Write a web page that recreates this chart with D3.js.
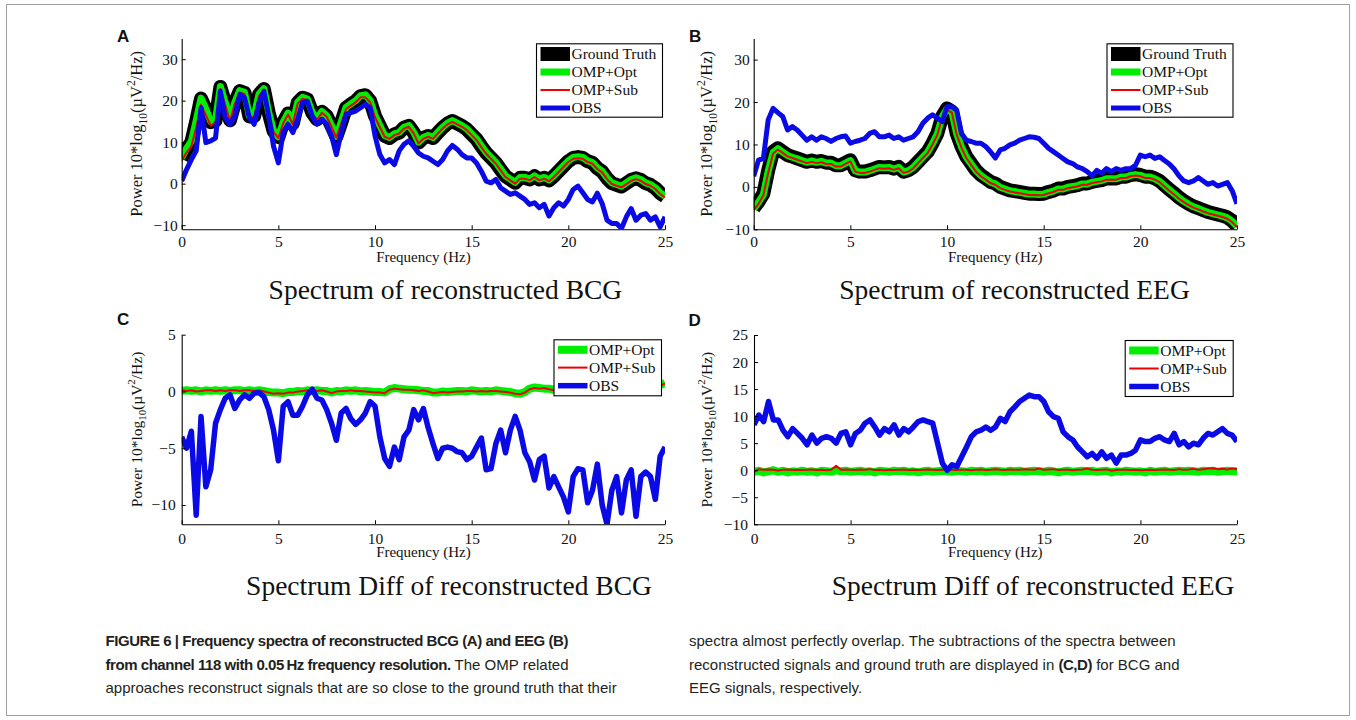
<!DOCTYPE html>
<html><head><meta charset="utf-8">
<script src="https://cdn.jsdelivr.net/npm/d3@7"></script>
<style>body{margin:0;background:#fff} svg{display:block}</style>
</head><body>
<svg id="fig" width="1356" height="720"></svg>
<script>
// ---------- DATA ----------
const freq = [0,0.25,0.5,0.75,1,1.25,1.5,1.75,2,2.25,2.5,2.75,3,3.25,3.5,3.75,4,4.25,4.5,4.75,
 5,5.25,5.5,5.75,6,6.25,6.5,6.75,7,7.25,7.5,7.75,8,8.25,8.5,8.75,9,9.25,9.5,9.75,
 10,10.25,10.5,10.75,11,11.25,11.5,11.75,12,12.25,12.5,12.75,13,13.25,13.5,13.75,14,14.25,14.5,14.75,
 15,15.25,15.5,15.75,16,16.25,16.5,16.75,17,17.25,17.5,17.75,18,18.25,18.5,18.75,19,19.25,19.5,19.75,
 20,20.25,20.5,20.75,21,21.25,21.5,21.75,22,22.25,22.5,22.75,23,23.25,23.5,23.75,24,24.25,24.5,24.75,25];
const xTicks = [0,5,10,15,20,25];
const yTicksAB = [-10,0,10,20,30];
const yTicksC = [-10,-5,0,5];
const yTicksD = [-10,-5,0,5,10,15,20,25];
const legendAB = ["Ground Truth","OMP+Opt","OMP+Sub","OBS"];
const legendCD = ["OMP+Opt","OMP+Sub","OBS"];

// Panel A: spectrum of reconstructed BCG
const gtA = [6,8.3,10,15,20.5,17.9,14.8,15.2,23.3,19.5,
 15.3,19.5,22.3,21.9,16.2,16.3,21.5,22.8,17.1,12.7,
 11.2,14.7,16.9,14.5,19.5,20.7,20.3,17.1,15.5,17.3,
 16.3,13.9,11.3,14.7,18.3,19.1,19.9,21.1,21.3,19.9,
 16.3,13.9,11.5,11,11.9,12.3,13.5,13.9,12.3,9.9,
 11,11.5,11,12.3,13.5,14.5,15.1,14.5,13.9,13.1,
 11.9,10.7,9,7.4,6.2,5,3.4,1.8,1,0.2,
 1.4,1.4,1,1.8,1,1.4,0.8,1.8,3,4.2,
 5.4,6.2,6.4,6.2,5.4,5,3.7,2.9,1.3,0.1,
 -0.3,-0.7,0.1,0.9,1.3,0.9,0.1,-0.3,-1.1,-2.3,
 -3.1];
const optA = [6.2,8.5,10.2,15.2,20.6,18,15,15.3,23.4,19.6,
 15.4,19.6,22.4,22,16.3,16.4,21.6,22.9,17.2,12.8,
 11.3,14.8,17,14.6,19.6,20.8,20.4,17.2,15.6,17.4,
 16.4,14,11.4,14.8,18.4,19.2,20,21.2,21.4,20,
 16.4,14,11.6,11.1,12,12.4,13.6,14,12.4,10,
 11.1,11.6,11.1,12.4,13.6,14.6,15.2,14.6,14,13.2,
 12,10.8,9.1,7.5,6.3,5.1,3.5,1.9,1.1,0.3,
 1.5,1.5,1.1,1.9,1.1,1.5,0.9,1.9,3.1,4.3,
 5.5,6.3,6.5,6.3,5.5,5.1,3.8,3,1.4,0.2,
 -0.2,-0.6,0.2,1,1.4,1,0.2,-0.2,-1,-2.2,
 -3];
const subA = [5.5,7.5,9,13.5,19,16.5,14,14.8,22.8,19,
 15,19.3,22,21.6,16,16,21.2,22.5,16.9,12.5,
 11,14.5,16.7,14.3,19.3,20.5,20.1,16.9,15.3,17.1,
 16.1,13.7,11.1,14.5,18,18.8,19.6,20.8,20.8,19.6,
 16,13.6,11.3,10.8,11.7,12.1,13.3,13.7,12.1,9.7,
 10.8,11.3,10.8,12.1,13.3,14.3,14.9,14.3,13.7,12.9,
 11.7,10.5,8.8,7.2,6,4.8,3.2,1.6,0.8,0,
 1.2,1.2,0.8,1.6,0.8,1.2,0.6,1.6,2.8,4,
 5.2,6,6.1,6,5.2,4.8,3.5,2.7,1.1,-0.1,
 -0.5,-0.9,-0.1,0.7,1.1,0.7,-0.1,-0.5,-1.3,-2.5,
 -3.3];
const obsA = [0.6,3.4,5.8,7.9,18.3,9.9,10.3,11,22.3,15.9,
 14.3,16.3,21.5,20.7,15.9,14.3,19.5,22.3,16.3,9,
 5,12.3,14.3,12.3,15.5,19.5,19.9,16.3,14.3,15.5,
 14.3,11.5,7,12.3,16.7,17.1,17.5,18.3,19.1,18.3,
 11.5,7,5,5.8,4.6,7.9,9.5,10.3,9,7.4,
 6.6,6.2,5.4,4.6,5.8,7.9,9.2,8.3,7,6.2,
 6.2,5,3,0.6,0.2,1,-1,-1.8,-2.6,-2.2,
 -3,-3.8,-5,-4.6,-5.8,-5,-7.8,-5.8,-4.6,-5.4,
 -3.8,-1.4,-0.6,-2.2,-3.8,-4.4,-2.3,-4.8,-8.8,-9.6,
 -9.6,-10.8,-8,-6,-8.8,-7.6,-7.2,-8.8,-8,-10.4,
 -8];

// Panel B: spectrum of reconstructed EEG
const gtB = [-5,-3.5,-1.6,3.9,8.3,9.1,8.3,7.5,7.1,6.7,
 6.3,5.9,6.2,5.9,6.1,5.7,5.7,5.1,5.1,5.7,
 6.3,3.9,3.6,3.6,3.9,4.3,4.7,4.6,4.7,4.3,
 4.7,3.6,3.9,4.7,5.9,7.1,8.3,10.3,12.6,16.6,
 18.5,17.8,12.6,9.5,7.1,5.5,3.9,2.8,2,1.2,
 0.8,0,-0.4,-0.8,-1,-1.2,-1.4,-1.6,-1.6,-1.7,
 -1.6,-1.2,-0.9,-0.4,-0.4,0,0.2,0.4,0.8,0.8,
 1.2,1.4,1.6,2,2,2,2.4,2.4,2.8,3,
 2.8,2.4,2.4,2,1.4,0.4,-0.6,-1.5,-2.5,-3.3,
 -4,-4.6,-5,-5.5,-5.9,-6.2,-6.5,-6.8,-7.2,-8,
 -9.2];
const optB = [-5.2,-3.6,-1.8,3.7,8.1,9,8.2,7.4,7,6.6,
 6.2,5.8,6.1,5.8,6,5.6,5.6,5,5,5.6,
 6.2,3.8,3.5,3.5,3.8,4.2,4.6,4.5,4.6,4.2,
 4.6,3.5,3.8,4.6,5.8,7,8.2,10.2,12.5,16.5,
 18.4,17.7,12.5,9.4,7,5.4,3.8,2.7,1.9,1.1,
 0.7,-0.1,-0.5,-0.9,-1.1,-1.3,-1.5,-1.7,-1.7,-1.8,
 -1.7,-1.3,-1,-0.5,-0.5,-0.1,0.1,0.3,0.7,0.7,
 1.1,1.3,1.5,1.9,1.9,1.9,2.3,2.3,2.7,2.9,
 2.7,2.3,2.3,1.9,1.3,0.3,-0.7,-1.6,-2.6,-3.4,
 -4.1,-4.7,-5.1,-5.6,-6,-6.3,-6.6,-6.9,-7.3,-8.1,
 -9.3];
const subB = [-5.5,-4,-2,3.3,7.8,8.8,8,7.2,6.8,6.4,
 6,5.6,5.9,5.6,5.8,5.4,5.4,4.8,4.8,5.4,
 6,3.6,3.3,3.3,3.6,4,4.4,4.3,4.4,4,
 4.4,3.3,3.6,4.4,5.6,6.8,8,10,12.3,16.3,
 18.2,17.5,12.3,9.2,6.8,5.2,3.6,2.5,1.7,0.9,
 0.5,-0.3,-0.7,-1.1,-1.3,-1.5,-1.7,-1.9,-1.9,-2,
 -1.9,-1.5,-1.2,-0.7,-0.7,-0.3,-0.1,0.1,0.5,0.5,
 0.9,1.1,1.3,1.7,1.7,1.7,2.1,2.1,2.5,2.7,
 2.5,2.1,2.1,1.7,1.1,0.1,-0.9,-1.8,-2.8,-3.6,
 -4.3,-4.9,-5.3,-5.8,-6.2,-6.5,-6.8,-7.1,-7.5,-8.3,
 -9.5];
const obsB = [2.5,6.3,6.7,15.8,18.5,17.5,16.6,13.4,14.2,13.4,
 12.2,11,11.8,11,11.8,11.4,10.7,11.4,11.8,12,
 10.3,10.7,11,11.4,12.6,13,11.8,11.8,12.2,11.4,
 11.8,11,11.4,11.8,13,15,16.2,17,16.2,15.4,
 18.9,18.9,18.1,12.6,11,10.7,10.3,10.3,9.5,8.3,
 6.8,8.7,9.1,9.9,10.3,11,11.4,11.8,11.7,11.4,
 10.3,9.1,8.3,7.5,6.7,5.9,5.5,4.7,4.3,3.6,
 2.6,3.9,3.2,4.3,3.6,4.3,3.9,4.3,4.3,5.1,
 7.5,7.1,7.5,6.7,7.1,6.2,5.4,4.2,2.6,1.4,
 1,1.4,2.2,1.4,0.6,1,0.2,0.6,1,-0.9,
 -4];

// Panel C: spectrum difference, BCG
const optC = [0.05,0.1,0.05,0.1,0,0.1,0.05,0.1,0.05,0.1,
 0.05,0.1,0.1,0.05,0.1,0.05,0.1,0.05,-0.05,-0.1,
 -0.1,-0.15,-0.05,-0.05,0.05,0,0.1,0.05,0.1,0.05,
 0.05,-0.1,0.05,0,0.1,0.05,0.1,0,0.05,0,
 -0.05,-0.05,-0.1,0.2,0.3,0.25,0.2,0.15,0.15,0.1,
 0.05,0.05,-0.1,-0.1,0,-0.05,0,0.05,0.05,0,
 0.1,0.05,0,0.05,0,0.1,0.05,0,-0.05,-0.15,
 -0.2,-0.05,0.25,0.35,0.3,0.25,0.25,0.15,0.1,0.15,
 0.1,0.15,0.1,0.05,0.1,0.15,0.1,0.05,0.1,0.15,
 0.1,0.15,0.1,0.2,0.15,0.25,0.3,0.3,0.4,0.55,
 0.75];
const subC = [0.1,0.05,0.1,0,0.05,0.1,0.1,0.05,0.1,0.05,
 0.1,0.1,0.05,0.1,0.1,0.05,0.1,0,-0.1,-0.2,
 -0.15,-0.2,-0.1,-0.1,0,0.05,0.1,0.05,0.05,0.1,
 0,-0.15,0,0.05,0.05,0.1,0.05,0.05,0,-0.05,
 -0.1,-0.1,-0.15,0.15,0.25,0.2,0.15,0.15,0.1,0.05,
 0.1,0,-0.15,-0.1,-0.05,-0.1,-0.05,0,0,0.05,
 0.05,0,0.05,0,0.05,0.05,0,-0.05,-0.1,-0.2,
 -0.25,-0.1,0.2,0.3,0.25,0.3,0.2,0.1,0.15,0.1,
 0.15,0.1,0.05,0.1,0.1,0.15,0.1,0.1,0.05,0.1,
 0.15,0.1,0.1,0.15,0.2,0.2,0.25,0.3,0.35,0.5,
 0.7];
const obsC = [-4,-5,-3.5,-10.9,-2.2,-8.4,-6.9,-2.8,-1.6,-0.6,
 -0.3,-1.5,-0.75,-0.3,-0.6,-0.15,-0.1,-0.45,-1.6,-3.4,
 -6.1,-1.3,-0.9,-2.1,-2.1,-1.3,-0.3,0.2,-0.6,-0.75,
 -1.6,-2.8,-4.3,-1.9,-1.5,-2.4,-2.9,-2.5,-1.9,-0.9,
 -1.3,-4,-5.9,-6.6,-4.9,-6,-4,-3.4,-1.6,-2.5,
 -1.5,-3.2,-4.6,-5.9,-5,-4.9,-5,-5.3,-5.4,-6,
 -5.7,-4.9,-4.1,-6.9,-6.8,-4.6,-3.4,-5.4,-3.4,-2.2,
 -3.4,-5.4,-6.2,-7.8,-6,-5.7,-8.5,-7.5,-8.4,-9.3,
 -10.6,-7.5,-6.8,-6.9,-9.8,-8.7,-6.4,-10,-11.7,-8.7,
 -7.5,-10.7,-7.8,-6.9,-11,-7.5,-7.1,-7.5,-9.5,-5.7,
 -4.9];

// Panel D: spectrum difference, EEG
const optD = [-0.3,-0.1,-0.4,-0.2,0,-0.3,-0.1,-0.4,-0.2,-0.3,
 -0.1,-0.3,-0.2,-0.4,-0.1,-0.2,-0.3,0,-0.2,-0.1,
 -0.3,-0.2,-0.1,-0.3,-0.2,-0.4,-0.1,-0.2,-0.3,-0.1,
 -0.2,-0.1,-0.3,-0.2,-0.4,-0.2,-0.1,-0.3,-0.2,-0.1,
 -0.2,-0.3,-0.1,-0.2,-0.3,-0.1,-0.2,-0.1,-0.3,-0.2,
 -0.1,-0.2,-0.3,-0.1,-0.2,-0.1,-0.3,-0.2,-0.1,-0.2,
 -0.3,-0.1,-0.2,-0.4,-0.2,-0.1,-0.3,-0.2,-0.1,-0.2,
 -0.1,-0.3,-0.2,-0.1,-0.4,-0.2,-0.3,-0.1,-0.2,-0.3,
 -0.2,-0.4,-0.1,-0.3,-0.2,-0.1,-0.3,-0.2,-0.1,-0.2,
 -0.1,-0.2,-0.3,-0.1,-0.2,-0.1,-0.3,-0.2,-0.1,-0.2,
 -0.2];
const subD = [-0.3,0.2,0.1,0.15,0.1,-0.05,0.1,0.15,0.05,0.1,
 0.05,0.1,0.15,0.05,0.1,0,0.1,0.8,0.1,0.15,
 0.1,0.05,0.15,0.1,0.2,0.05,0.1,0,0.1,0.05,
 0.1,0.15,0.05,0.1,0.05,0.1,0.15,0.1,0.05,0.1,
 0.15,0.1,0.05,0.1,0.1,0,0.1,0.15,0.05,0.1,
 0.2,0.1,0.05,0.15,0.1,0.1,0.2,0.15,0.1,0.3,
 0.1,0.15,0.2,0.05,0.1,0.1,0,0.1,0.15,0.3,
 0.1,0.05,0.1,0.15,-0.1,0.05,0.1,0.1,0.05,0.1,
 0,0.05,0.1,0.05,0.1,0.15,0.1,0.05,0.2,0.1,
 0.15,0.25,0.1,0.2,0.3,0.35,0.2,0.25,0.15,0.3,
 0.2];
const obsD = [8.4,10.2,9,12.7,9.3,9.3,7.4,6.2,7.7,6.8,
 5.9,4.7,6.5,5,5.9,6.2,5.9,5,6.8,7.1,
 4.7,6.8,7.4,8.7,9.3,8,6.5,7.7,7.1,8.4,
 6.5,7.7,7.1,8,9,9.3,9,8.7,5,1.3,
 0,1,0.7,2.5,4.3,6.2,7.1,7.4,8,7.4,
 8,9.6,9,10.8,11.7,12.7,13.3,13.9,13.6,13.6,
 12.7,10.8,9.9,9.6,7.1,6.2,5.6,4.3,3.4,2.5,
 3.1,2.2,3.4,2.2,2.8,1.3,2.8,2.8,3.1,3.7,
 5.6,5.3,5.3,5.9,6.2,5.6,5.3,6.8,4.7,5.3,
 4.3,5,4.7,5.9,6.8,6.5,7.1,7.7,6.8,6.5,
 5.3];

// ---------- DRAWING ----------
const SERIF = "'Liberation Serif','Times New Roman',Times,serif";
const SANS = "'Liberation Sans',Arial,Helvetica,sans-serif";
const C_BLACK = "#000", C_GREEN = "#00ee00", C_RED = "#ee0000", C_BLUE = "#0a0ae6";
const svg = d3.select("#fig");

svg.append("rect").attr("x",6.5).attr("y",4.5).attr("width",1343).attr("height",711)
  .attr("fill","none").attr("stroke","#a0a0a0").attr("stroke-width",1);

const panels = [
  {key:"A", lx:117, ly:42, x0:181.7, x1:665, yTop:38.4, yBot:229.3, dom:[-11,35], yticks:yTicksAB,
   tickPadX:6.8, tickPadY:4, ylabX:136.4, ylabFs:16.5, xlabX:423.4, xlabY:261.7,
   title:"Spectrum of reconstructed BCG", tX:445.4, tY:299,
   leg:{x:536, y:43.3, w:126, h:73.4, rows:[54,72,90,108]},
   series:[{n:legendAB[0],d:gtA,c:C_BLACK,w:14},{n:legendAB[1],d:optA,c:C_GREEN,w:7},
           {n:legendAB[2],d:subA,c:C_RED,w:2},{n:legendAB[3],d:obsA,c:C_BLUE,w:5}]},
  {key:"B", lx:689, ly:42, x0:753.7, x1:1237, yTop:38.4, yBot:229.3, dom:[-10,35], yticks:yTicksAB,
   tickPadX:6.8, tickPadY:4, ylabX:706.4, ylabFs:16.5, xlabX:995.3, xlabY:261.7,
   title:"Spectrum of reconstructed EEG", tX:1014.5, tY:299,
   leg:{x:1106.5, y:43.3, w:126, h:73.4, rows:[54,72,90,108]},
   series:[{n:legendAB[0],d:gtB,c:C_BLACK,w:14},{n:legendAB[1],d:optB,c:C_GREEN,w:7},
           {n:legendAB[2],d:subB,c:C_RED,w:2},{n:legendAB[3],d:obsB,c:C_BLUE,w:5}]},
  {key:"C", lx:117, ly:325, x0:181.7, x1:665, yTop:334.7, yBot:524.3, dom:[-11.7,5], yticks:yTicksC,
   tickPadX:8.4, tickPadY:6, ylabX:136.4, ylabFs:15.5, xlabX:423.4, xlabY:557,
   title:"Spectrum Diff of reconstructed BCG", tX:449, tY:595,
   leg:{x:553.5, y:339.3, w:107.5, h:56, rows:[349.8,367.6,385.7]},
   series:[{n:legendCD[0],d:optC,c:C_GREEN,w:8},{n:legendCD[1],d:subC,c:C_RED,w:2},
           {n:legendCD[2],d:obsC,c:C_BLUE,w:5.5}]},
  {key:"D", lx:688.5, ly:326, x0:754, x1:1237, yTop:335, yBot:524.3, dom:[-10,25], yticks:yTicksD,
   tickPadX:8.4, tickPadY:6, ylabX:706.4, ylabFs:15.5, xlabX:995.3, xlabY:557,
   title:"Spectrum Diff of reconstructed EEG", tX:1033, tY:595,
   leg:{x:1124.7, y:340, w:108, h:56, rows:[350.5,368.5,386.5]},
   series:[{n:legendCD[0],d:optD,c:C_GREEN,w:8},{n:legendCD[1],d:subD,c:C_RED,w:2},
           {n:legendCD[2],d:obsD,c:C_BLUE,w:5.5}]}
];

const fmt = d => d < 0 ? "\u2212" + Math.abs(d) : String(d);

panels.forEach(p => {
  const g = svg.append("g");
  const x = d3.scaleLinear().domain([0,25]).range([p.x0, p.x1]);
  const y = d3.scaleLinear().domain(p.dom).range([p.yBot, p.yTop]);

  const clipId = "clip" + p.key;
  svg.append("clipPath").attr("id", clipId).append("rect")
    .attr("x", p.x0).attr("y", p.yTop).attr("width", p.x1 - p.x0).attr("height", p.yBot - p.yTop);

  const line = d3.line().x((d,i) => x(freq[i])).y(d => y(d));
  const lines = g.append("g").attr("clip-path", `url(#${clipId})`);
  p.series.forEach(s => {
    lines.append("path").datum(s.d).attr("d", line)
      .attr("fill","none").attr("stroke", s.c).attr("stroke-width", s.w)
      .attr("stroke-linejoin","round").attr("stroke-linecap","butt");
  });

  // axes
  const ax = g.append("g").attr("transform", `translate(0,${p.yBot})`)
    .call(d3.axisBottom(x).tickValues(xTicks).tickSizeInner(-4).tickSizeOuter(0).tickPadding(p.tickPadX).tickFormat(fmt));
  const ay = g.append("g").attr("transform", `translate(${p.x0},0)`)
    .call(d3.axisLeft(y).tickValues(p.yticks).tickSizeInner(-4).tickSizeOuter(0).tickPadding(p.tickPadY).tickFormat(fmt));
  [ax, ay].forEach(a => {
    a.attr("font-family", SERIF).attr("font-size", 15.5);
    a.select(".domain").attr("stroke","#000").attr("stroke-width",1.1);
    a.selectAll(".tick line").attr("stroke","#000").attr("stroke-width",1);
    a.selectAll(".tick text").attr("fill","#111");
  });

  // x label
  g.append("text").attr("x", p.xlabX).attr("y", p.xlabY).attr("text-anchor","middle")
    .attr("font-family", SERIF).attr("font-size", 15).attr("fill","#111").text("Frequency (Hz)");

  // y label with subscript / superscript
  const fs = p.ylabFs, cy = (p.yTop + p.yBot) / 2;
  const yl = g.append("text").attr("transform", `translate(${p.ylabX},${cy}) rotate(-90)`)
    .attr("y", 0.33 * fs).attr("text-anchor","middle")
    .attr("font-family", SERIF).attr("font-size", fs).attr("fill","#111");
  yl.append("tspan").text("Power 10*log");
  yl.append("tspan").attr("font-size", fs*0.7).attr("dy", fs*0.3).text("10");
  yl.append("tspan").attr("dy", -fs*0.3).text("(\u00b5V");
  yl.append("tspan").attr("font-size", fs*0.7).attr("dy", -fs*0.42).text("2");
  yl.append("tspan").attr("dy", fs*0.42).text("/Hz)");

  // legend
  const L = p.leg;
  const lg = g.append("g");
  lg.append("rect").attr("x", L.x + 0.5).attr("y", L.y + 0.5).attr("width", L.w).attr("height", L.h)
    .attr("fill","#fff").attr("stroke","#000").attr("stroke-width",1.1);
  p.series.forEach((s, i) => {
    const ry = L.rows[i];
    lg.append("line").attr("x1", L.x + 4.5).attr("x2", L.x + 34).attr("y1", ry).attr("y2", ry)
      .attr("stroke", s.c).attr("stroke-width", s.w);
    lg.append("text").attr("x", L.x + 35.5).attr("y", ry + 5.2)
      .attr("font-family", SERIF).attr("font-size", 15.5).attr("fill","#111").text(s.n);
  });

  // title
  svg.append("text").attr("x", p.tX).attr("y", p.tY).attr("text-anchor","middle")
    .attr("font-family", SERIF).attr("font-size", 27.5).attr("fill","#111").text(p.title);

  // panel letter
  svg.append("text").attr("x", p.lx).attr("y", p.ly)
    .attr("font-family", SANS).attr("font-weight","bold").attr("font-size", 17).attr("fill","#111").text(p.key);
});

// ---------- CAPTION ----------
const cap = svg.append("g").attr("font-family", SANS).attr("font-size", 15).attr("fill","#231f20");
function capLine(xp, yp, parts) {
  const t = cap.append("text").attr("x", xp).attr("y", yp);
  parts.forEach(([txt, bold]) => t.append("tspan")
    .attr("font-weight", bold ? "bold" : "normal")
    .attr("letter-spacing", bold ? -0.45 : 0)
    .text(txt));
}
capLine(105.5, 646, [["FIGURE 6 | Frequency spectra of reconstructed BCG (A) and EEG (B)", true]]);
capLine(105.5, 669.5, [["from channel 118 with 0.05\u2009Hz frequency resolution.", true], [" The OMP related", false]]);
capLine(105.5, 693, [["approaches reconstruct signals that are so close to the ground truth that their", false]]);
capLine(689, 646, [["spectra almost perfectly overlap. The subtractions of the spectra between", false]]);
capLine(689, 669.5, [["reconstructed signals and ground truth are displayed in ", false], ["(C,D)", true], [" for BCG and", false]]);
capLine(689, 693, [["EEG signals, respectively.", false]]);
</script>
</body></html>
